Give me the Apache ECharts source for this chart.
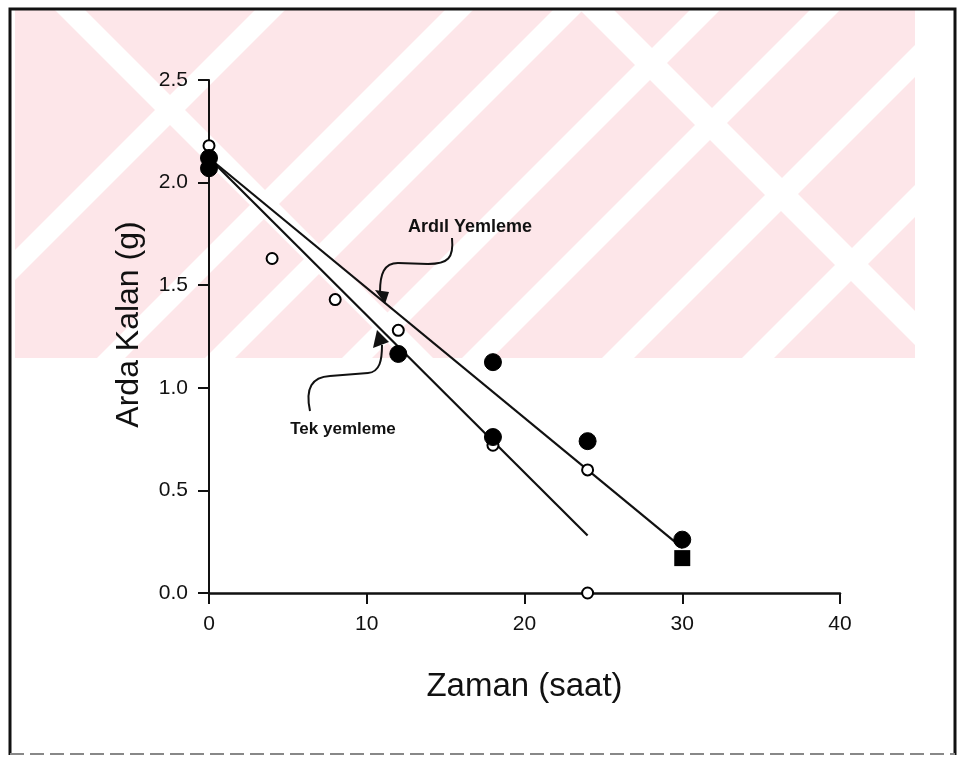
<!DOCTYPE html>
<html>
<head>
<meta charset="utf-8">
<script src="https://cdn.jsdelivr.net/npm/echarts@6/dist/echarts.min.js"></script>
<style>
html,body{margin:0;padding:0;background:#fff;}
#chart{width:960px;height:759px;}
</style>
</head>
<body>
<div id="chart"></div>
<script>
// ---- data ----
const xTicks = [0, 10, 20, 30, 40];
const yTicks = [0.0, 0.5, 1.0, 1.5, 2.0, 2.5];
const openPoints = [[0, 2.18], [4, 1.63], [8, 1.43], [12, 1.28], [18, 0.72], [24, 0.60], [24, 0.0]];
const filledPoints = [[0, 2.12], [0, 2.07], [12, 1.165], [18, 1.125], [18, 0.76], [24, 0.74], [30, 0.26]];
const squarePoints = [[30, 0.17]];
const ardilLine = [[0, 2.12], [30, 0.22]];
const tekLine = [[0, 2.12], [24, 0.28]];
const labelArdil = 'Ardıl Yemleme';
const labelTek = 'Tek yemleme';
const xName = 'Zaman (saat)';
const yName = 'Arda Kalan (g)';

const chart = echarts.init(document.getElementById('chart'), null, {renderer: 'canvas'});
const PINK = '#fde6e9';
const FONT = 'Liberation Sans, Arial, sans-serif';

// watermark (decorative background): pink band crossed by white diagonal stripes
const TOP = 10, BOT = 358;
function slashStripe(c, w, y0, y1) { // x + y = c
  return [[c - y0, y0], [c + w - y0, y0], [c + w - y1, y1], [c - y1, y1]];
}
function backStripe(d, w, y0, y1) { // x - y = d
  return [[d + y0, y0], [d + w + y0, y0], [d + w + y1, y1], [d + y1, y1]];
}
const wm = [{type: 'rect', shape: {x: 15, y: TOP, width: 900, height: BOT - TOP}, style: {fill: PINK}, z: -10, silent: true}];
const slashes = [[265, 30, TOP, BOT], [455, 28, TOP, BOT], [563, 30, TOP, BOT], [700, 30, TOP, BOT], [820, 30, TOP, BOT], [960, 32, TOP, BOT], [1100, 32, TOP, BOT]];
const backs = [[45, 30, TOP, BOT], [570, 34, TOP, BOT]];
slashes.forEach(s => wm.push({type: 'polygon', shape: {points: slashStripe(...s)}, style: {fill: '#fff'}, z: -9, silent: true}));
backs.forEach(s => wm.push({type: 'polygon', shape: {points: backStripe(...s)}, style: {fill: '#fff'}, z: -9, silent: true}));

const lineStyleBlack = {color: '#111', width: 2.2};

const option = {
  backgroundColor: '#fff',
  animation: false,
  grid: {left: 209, right: 120, top: 80, bottom: 166, containLabel: false},
  xAxis: {
    type: 'value', min: 0, max: 40, interval: 10,
    name: xName, nameLocation: 'middle', nameGap: 77,
    nameTextStyle: {fontSize: 33, fontFamily: FONT, color: '#111'},
    axisLine: {show: true, lineStyle: {color: '#111', width: 2.5}},
    axisTick: {show: true, length: 11, inside: false, lineStyle: {color: '#111', width: 2}},
    axisLabel: {fontSize: 21, fontFamily: FONT, color: '#111', margin: 21, formatter: v => xTicks.includes(v) ? String(v) : ''},
    splitLine: {show: false}
  },
  yAxis: {
    type: 'value', min: 0, max: 2.5, interval: 0.5,
    name: yName, nameLocation: 'middle', nameGap: 64, nameRotate: 90,
    nameTextStyle: {fontSize: 32, fontFamily: FONT, color: '#111', padding: [0, 0, 0, 24]},
    axisLine: {show: true, lineStyle: {color: '#111', width: 2}},
    axisTick: {show: true, length: 11, inside: false, lineStyle: {color: '#111', width: 2}},
    axisLabel: {fontSize: 21, fontFamily: FONT, color: '#111', margin: 21, formatter: v => yTicks.find(t => Math.abs(t - v) < 1e-9).toFixed(1)},
    splitLine: {show: false}
  },
  series: [
    {type: 'line', data: ardilLine, symbol: 'none', lineStyle: lineStyleBlack, z: 3},
    {type: 'line', data: tekLine, symbol: 'none', lineStyle: lineStyleBlack, z: 3},
    {type: 'scatter', data: openPoints, symbol: 'circle', symbolSize: 11,
      itemStyle: {color: '#fff', borderColor: '#000', borderWidth: 2, opacity: 1}, z: 4},
    {type: 'scatter', data: filledPoints, symbol: 'circle', symbolSize: 17,
      itemStyle: {color: '#000', borderColor: '#000', borderWidth: 1, opacity: 1}, z: 5},
    {type: 'scatter', data: squarePoints, symbol: 'rect', symbolSize: 16,
      itemStyle: {color: '#000', opacity: 1}, z: 5}
  ],
  graphic: wm.concat([
    // frame
    {type: 'polyline', shape: {points: [[10, 755], [10, 9], [955, 9], [955, 755]]}, style: {stroke: '#111', lineWidth: 3, fill: null}, z: 50, silent: true},
    {type: 'line', shape: {x1: 10, y1: 754, x2: 955, y2: 754}, style: {stroke: '#888', lineWidth: 2, lineDash: [14, 6]}, z: 50, silent: true},
    // Ardil annotation
    {type: 'text', style: {text: labelArdil, x: 470, y: 227, fontSize: 18, fontWeight: 'bold', fontFamily: FONT, fill: '#111', align: 'center', verticalAlign: 'middle'}, z: 20},
    {type: 'bezierCurve', shape: {x1: 452, y1: 238, x2: 428, y2: 264, cpx1: 454, cpy1: 258, cpx2: 448, cpy2: 264}, style: {stroke: '#111', lineWidth: 2, fill: null}, z: 20},
    {type: 'line', shape: {x1: 428, y1: 264, x2: 398, y2: 263}, style: {stroke: '#111', lineWidth: 2}, z: 20},
    {type: 'bezierCurve', shape: {x1: 398, y1: 263, x2: 380, y2: 292, cpx1: 384, cpy1: 263, cpx2: 380, cpy2: 274}, style: {stroke: '#111', lineWidth: 2, fill: null}, z: 20},
    {type: 'polygon', shape: {points: [[375, 290], [389, 292], [385, 304]]}, style: {fill: '#111'}, z: 20},
    // Tek annotation
    {type: 'text', style: {text: labelTek, x: 343, y: 429, fontSize: 17, fontWeight: 'bold', fontFamily: FONT, fill: '#111', align: 'center', verticalAlign: 'middle'}, z: 20},
    {type: 'bezierCurve', shape: {x1: 310, y1: 411, x2: 330, y2: 376, cpx1: 305, cpy1: 388, cpx2: 312, cpy2: 377}, style: {stroke: '#111', lineWidth: 2, fill: null}, z: 20},
    {type: 'line', shape: {x1: 330, y1: 376, x2: 368, y2: 373}, style: {stroke: '#111', lineWidth: 2}, z: 20},
    {type: 'bezierCurve', shape: {x1: 368, y1: 373, x2: 382, y2: 345, cpx1: 380, cpy1: 372, cpx2: 382, cpy2: 360}, style: {stroke: '#111', lineWidth: 2, fill: null}, z: 20},
    {type: 'polygon', shape: {points: [[377, 330], [373, 348], [389, 342]]}, style: {fill: '#111'}, z: 20}
  ])
};
chart.setOption(option);
</script>
</body>
</html>
